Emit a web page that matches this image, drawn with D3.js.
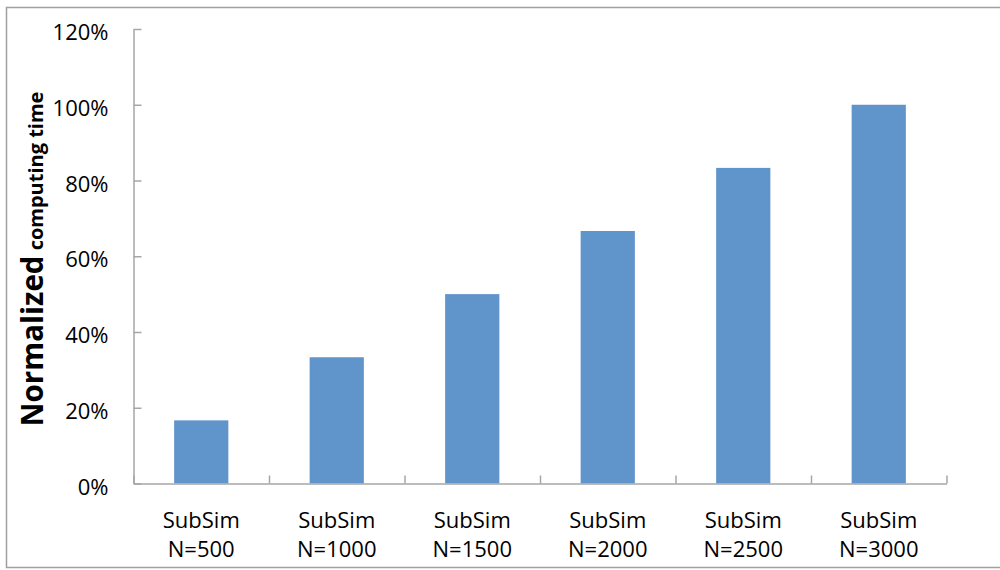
<!DOCTYPE html>
<html>
<head>
<meta charset="utf-8">
<script src="https://cdn.jsdelivr.net/npm/d3@7"></script>
<style>
  html, body { margin: 0; padding: 0; background: #fff; }
  svg { display: block; font-family: "Open Sans", sans-serif; }
</style>
</head>
<body>
<svg id="chart" width="1000" height="570"></svg>
<script>
// Normalized computing time of SubSim for increasing sample sizes
const methods = ["SubSim", "SubSim", "SubSim", "SubSim", "SubSim", "SubSim"];
const sizes = ["N=500", "N=1000", "N=1500", "N=2000", "N=2500", "N=3000"];
const normalizedTime = [0.1667, 0.3333, 0.5, 0.6667, 0.8333, 1.0];
const yTicks = [0, 0.2, 0.4, 0.6, 0.8, 1.0, 1.2];

const svg = d3.select("#chart");
const plotLeft = 133.5, plotRight = 946.5, plotTop = 29, plotBottom = 483.5;
const axisColor = "#a6a6a6";
const barColor = "#5f95ca";
const fontFamily = "'Open Sans', sans-serif";

// outer frame
svg.append("rect")
  .attr("x", 6.5).attr("y", 7.5)
  .attr("width", 1000).attr("height", 560)
  .attr("fill", "none").attr("stroke", "#a0a0a0").attr("stroke-width", 1.5);

const keys = d3.range(normalizedTime.length);
const x = d3.scaleBand().domain(keys).range([plotLeft, plotRight])
  .paddingInner(0.6).paddingOuter(0.3);
const y = d3.scaleLinear().domain([0, 1.2]).range([plotBottom, plotTop]);
const xEdges = d3.scaleLinear().domain([0, keys.length]).range([plotLeft, plotRight]);

// bars
svg.append("g").selectAll("rect")
  .data(normalizedTime)
  .join("rect")
  .attr("x", (d, i) => x(i))
  .attr("width", x.bandwidth())
  .attr("y", d => y(d))
  .attr("height", d => y(0) - y(d))
  .attr("fill", barColor);

// y axis
const yAxis = svg.append("g")
  .attr("transform", `translate(${plotLeft},0)`)
  .call(d3.axisLeft(y).tickValues(yTicks)
    .tickFormat(d3.format(".0%"))
    .tickSizeInner(-8).tickSizeOuter(0).tickPadding(25));
yAxis.attr("font-family", fontFamily).attr("font-size", 22);
yAxis.selectAll("path, line").attr("stroke", axisColor).attr("stroke-width", 1.5);
yAxis.selectAll("text")
  .attr("fill", "#000")
  .attr("dy", null).attr("y", 10.5);

// x axis line with boundary ticks
const xAxis = svg.append("g")
  .attr("transform", `translate(0,${plotBottom})`)
  .call(d3.axisBottom(xEdges).tickValues(d3.range(keys.length + 1))
    .tickFormat("").tickSizeInner(-8).tickSizeOuter(0));
xAxis.selectAll("path, line").attr("stroke", axisColor).attr("stroke-width", 1.5);

// category labels (two lines)
const labels = svg.append("g").attr("font-size", 22).attr("fill", "#000")
  .attr("text-anchor", "middle");
keys.forEach(i => {
  const cx = x(i) + x.bandwidth() / 2;
  const t = labels.append("text").attr("x", cx).attr("y", 528);
  t.append("tspan").attr("x", cx).text(methods[i]);
  t.append("tspan").attr("x", cx).attr("y", 557).text(sizes[i]);
});

// y axis title
const title = svg.append("text")
  .attr("transform", "translate(43,259) rotate(-90)")
  .attr("text-anchor", "middle")
  .attr("font-weight", "bold").attr("fill", "#000");
title.append("tspan").attr("font-size", 29.5).text("Normalized");
title.append("tspan").attr("font-size", 20).text(" computing time");
</script>
</body>
</html>
